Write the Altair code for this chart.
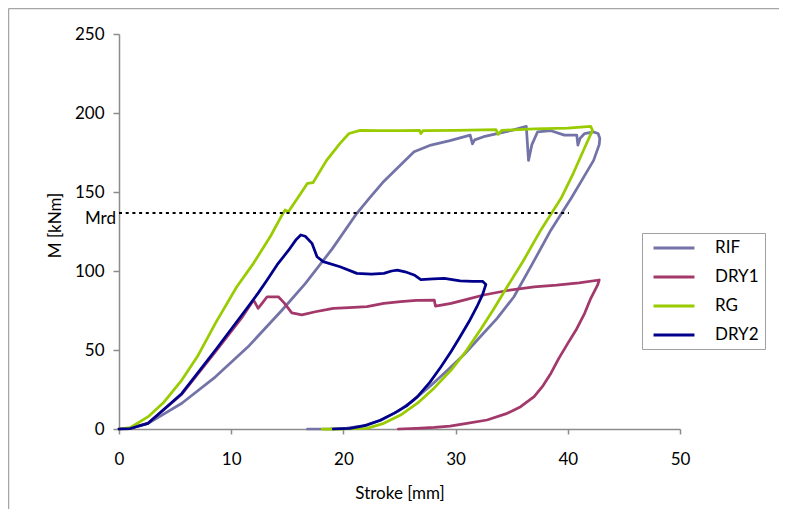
import altair as alt
import pandas as pd

series = ["RIF", "DRY1", "RG", "DRY2"]
colors = ["#7373A8", "#A3386B", "#99CC00", "#00008C"]

rif_x = [0, 1, 2.6, 5.6, 8.6, 11.5, 14.5, 16.6, 19, 21.2, 22.3, 23.5, 24.5, 25.5, 26.3, 27.8, 29.5,
         31.3, 31.5, 31.7, 32.5, 33.7, 35, 36.3, 36.5, 36.8, 37.3, 38.5, 39.7, 40.8, 40.9, 41.1,
         41.5, 42.3, 42.7, 42.85, 42.8, 42.3, 41.3, 40.3, 38.5, 36.8, 35.2, 33.7, 32.2, 30.8,
         29.3, 27.8, 26.3, 24.8, 23.3, 21.8, 20.3, 18.8, 16.8]
rif_y = [0, 0.5, 3.6, 16.3, 33, 52, 75, 92, 114, 136.5, 146, 156, 163, 170, 175.5, 179.7, 182.5,
         186, 180.5, 183, 185, 187, 189, 191.5, 170, 180, 188, 188.8, 186, 186, 179.7, 184,
         187, 188, 187, 184, 180, 170, 158, 146, 126, 104, 83.7, 70, 58.4, 47.5,
         37.3, 27.5, 18.5, 11, 5.5, 2, 0.6, 0.1, 0]

dry1_x = [0, 1, 2.6, 5.6, 8.6, 11, 12, 12.4, 12.8, 13.2, 14.2, 14.7, 15.4, 16.3, 17.5, 18.5, 19.1,
          20.5, 22.1, 23.6, 25.1, 26.5, 28.1, 28.2, 28.6, 29.6, 31, 32.5, 34.5, 37, 39, 41, 42.8,
          42.65, 42.05, 41.5, 40.8, 40, 39.2, 38.5, 37.8, 37, 35.8, 34.6, 32.8, 31, 29.5, 28.1,
          26.5, 24.9]
dry1_y = [0, 0.3, 3.8, 22, 49, 71, 81.6, 76.4, 80, 83.7, 83.7, 80, 73.5, 72.2, 74.2, 75.5, 76.4,
          76.8, 77.4, 79.5, 80.6, 81.4, 81.6, 77.8, 78.3, 79.5, 82, 84.8, 87.5, 90, 91, 92.5, 94.3,
          91, 82.7, 73.2, 63.5, 54.2, 44.7, 35.3, 27.5, 20.5, 14.1, 9.9, 5.7, 3.6, 1.8, 1,
          0.4, 0]

rg_x = [0, 1, 2.6, 4, 5.6, 7, 8.6, 10.5, 12, 13.5, 14.5, 14.8, 15.1, 16, 16.8, 17.3, 18.5, 19.7,
        20.5, 21.5, 23, 25, 26.8, 26.9, 27.1, 30, 33.6, 33.8, 34.1, 37, 40, 42.05, 42.2, 41.5,
        40.5, 39.4, 37.6, 36, 34.6, 33.4, 32.2, 30.9, 29.6, 28.1, 26.6, 25.1, 23.6, 22.1, 20, 18.1]
rg_y = [0, 0.8, 7.8, 17, 31, 46, 67, 90, 105, 122, 135, 138.6, 137.5, 147, 155.5, 156, 170, 180.8,
        187, 189, 188.8, 188.8, 189, 187, 188.8, 189, 189.5, 186.5, 189, 190, 190.5, 191.5, 189, 178,
        162, 146, 126, 106, 90, 76, 62.7, 49, 37.3, 26, 16.3, 8.8, 3.6, 0.4, 0, 0]

dry2_x = [0, 1, 2.6, 5.6, 8.6, 11.5, 12.4, 13.2, 14.1, 15.1, 15.8, 16.2, 16.6, 17.2, 17.65, 18.2,
          19.7, 21.2, 22.5, 23.6, 24.3, 24.8, 25.5, 26.3, 26.9, 28, 29, 30.4, 31.5, 32.4, 32.7,
          32.4, 31.9, 31.2, 30.4, 29.6, 28.7, 27.7, 26.6, 25.6, 24.5, 23.3, 22.1, 20.6, 19.1]
dry2_y = [0, 0.3, 3.6, 22.5, 50, 77.4, 86, 94.3, 104, 113, 120, 122.8, 122, 117.5, 109, 105.9,
          102.7, 98.5, 98, 98.5, 100, 100.6, 99.5, 97.5, 94.5, 95, 95.4, 93.8, 93.5, 93.5, 91.5,
          85, 77.4, 68, 58.4, 49, 39.4, 29.5, 20.5, 14.5, 9.9, 5.5, 2.5, 0.4, 0]

mrd_value = 136.7
mrd_x = [0, 40.1]
x_ticks = [0, 10, 20, 30, 40, 50]
y_ticks = [0, 50, 100, 150, 200, 250]

rows = []
for name, xs, ys in [("RIF", rif_x, rif_y), ("DRY1", dry1_x, dry1_y),
                     ("RG", rg_x, rg_y), ("DRY2", dry2_x, dry2_y)]:
    for i, (a, b) in enumerate(zip(xs, ys)):
        rows.append({"series": name, "stroke": a, "M": b, "i": i})
df = pd.DataFrame(rows)

FONT = "Lato"
FS = 17
GRAY = "#8C8C8C"

xscale = alt.Scale(domain=[0, 50], nice=False, zero=False)
yscale = alt.Scale(domain=[0, 250], nice=False, zero=False)

x_axis = alt.Axis(values=x_ticks, title="Stroke [mm]", grid=False, tickSize=5, labelPadding=17,
                  labelFlush=False,
                  titleX=280.5, titleY=64, titleBaseline="middle", titleAlign="center")
y_axis = alt.Axis(values=y_ticks, title="M [kNm]", grid=False, tickSize=6, labelPadding=9,
                  labelFlush=False,
                  titleX=-64, titleY=191, titleAngle=270, titleAlign="center",
                  titleBaseline="middle")

color = alt.Color(
    "series:N",
    scale=alt.Scale(domain=series, range=colors),
    legend=alt.Legend(
        title=None, orient="none", legendX=523, legendY=199,
        symbolType="M-2.73,0H2.73", symbolSize=225, symbolStrokeWidth=3,
        symbolOffset=17, labelOffset=32, rowPadding=12, padding=6,
        strokeColor="#A0A0A0", fillColor="white",
        labelFont=FONT, labelFontSize=FS, labelColor="black",
    ),
)

layers = []
for name in series:
    layers.append(
        alt.Chart(df).transform_filter(alt.datum.series == name)
        .mark_line(strokeWidth=2.75, strokeJoin="round", strokeCap="round")
        .encode(
            x=alt.X("stroke:Q", scale=xscale, axis=x_axis),
            y=alt.Y("M:Q", scale=yscale, axis=y_axis),
            color=color,
            order="i:Q",
        )
    )

mrd_df = pd.DataFrame({"x0": [mrd_x[0]], "x1": [mrd_x[1]], "y": [mrd_value], "label": ["Mrd"]})
mrd_line = alt.Chart(mrd_df).mark_rule(color="black", strokeWidth=2, strokeDash=[3, 3.7]).encode(
    x=alt.X("x0:Q", scale=xscale), x2="x1:Q", y=alt.Y("y:Q", scale=yscale)
)
mrd_text = alt.Chart(mrd_df).mark_text(
    align="right", baseline="alphabetic", dy=11, font=FONT, fontSize=FS, color="black"
).encode(x=alt.value(-3), y=alt.Y("y:Q", scale=yscale), text="label:N")

border_df = pd.DataFrame({"a": [0]})
border_left = alt.Chart(border_df).mark_rule(color="#A6A6A6", strokeWidth=1.5).encode(
    x=alt.value(-110.5), y=alt.value(-25.5), y2=alt.value(480)
)
border_top = alt.Chart(border_df).mark_rule(color="#A6A6A6", strokeWidth=1.5).encode(
    x=alt.value(-110.5), x2=alt.value(660), y=alt.value(-25.5)
)

chart = alt.layer(border_left, border_top, *layers, mrd_line, mrd_text).properties(
    width=561, height=395,
    autosize=alt.AutoSizeParams(type="none"),
    padding={"left": 111, "top": 26, "right": 99, "bottom": 80},
).configure_view(strokeWidth=0).configure_axis(
    domainColor=GRAY, tickColor=GRAY, domainWidth=1.5, tickWidth=1.5,
    labelFont=FONT, labelFontSize=FS, labelColor="black",
    titleFont=FONT, titleFontSize=FS, titleFontWeight="normal", titleColor="black",
)

chart.save("out.html", embed_options={"renderer": "svg", "actions": False})
